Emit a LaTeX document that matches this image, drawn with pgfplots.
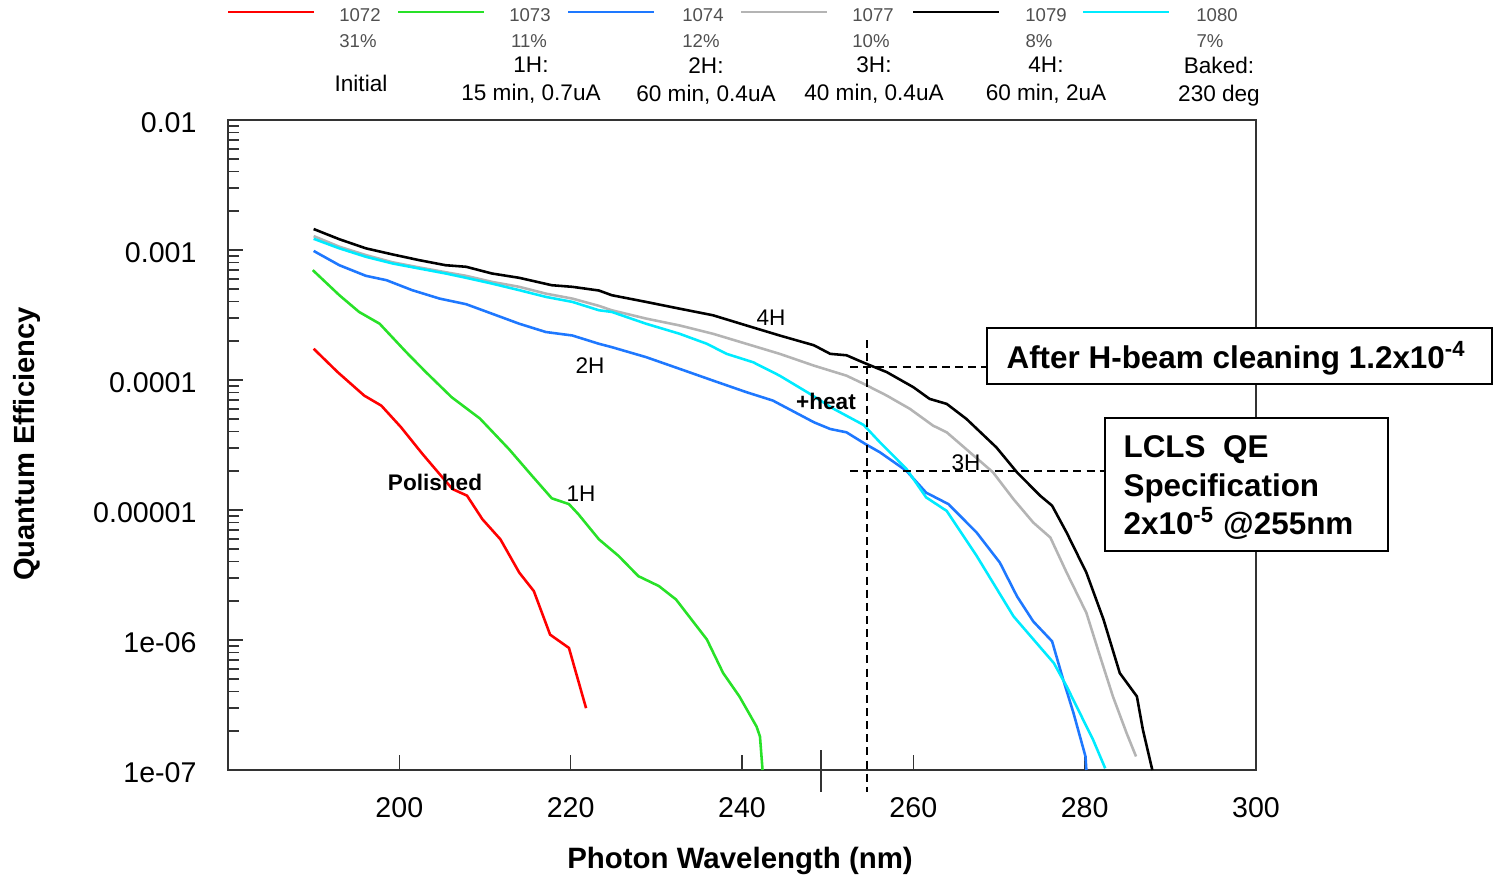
\documentclass[border=0pt]{standalone}
\usepackage{pgfplots}
\pgfplotsset{compat=1.18}
\usepackage{fontspec}
\setmainfont{Liberation Sans}

\definecolor{cred}{RGB}{255,0,0}
\definecolor{cgreen}{RGB}{40,225,40}
\definecolor{cblue}{RGB}{30,120,255}
\definecolor{cgray}{RGB}{180,180,180}
\definecolor{ccyan}{RGB}{0,235,255}
\definecolor{leggray}{RGB}{80,80,80}

\begin{document}
\begin{tikzpicture}
\tikzset{px/.style={x=0.35pt,y=-0.35pt}}
\path[use as bounding box,px] (0,0) rectangle (1493,877);
\begin{axis}[
  at={(79.8pt,-269.5pt)}, anchor=south west,
  scale only axis, width=359.8pt, height=227.5pt,
  xmin=180, xmax=300, ymode=log, ymin=1e-7, ymax=1e-2,
  xtick={200,220,240,260,280,300},
  xticklabels={200,220,240,260,280,300},
  ytick={1e-7,1e-6,1e-5,1e-4,1e-3,1e-2},
  yticklabels={1e-07,1e-06,0.00001,0.0001,0.001,0.01},
  tick pos=left, tick align=inside,
  major tick length=5.2pt, minor tick length=3.8pt,
  axis line style={line width=0.7pt, black!80},
  every tick/.style={black!80, line width=0.5pt},
  ticklabel style={font=\fontsize{10}{12}\selectfont},
  yticklabel style={xshift=-7.5pt, yshift=-1pt},
  xticklabel style={yshift=-6pt},
]
% 1072 initial
\addplot[cred, line width=0.9pt] coordinates {
(190.0,1.74e-4)(192.8,1.15e-4)(195.9,7.59e-5)(197.9,6.35e-5)(200.2,4.33e-5)
(202.7,2.70e-5)(204.7,1.89e-5)(206.2,1.45e-5)(207.9,1.29e-5)(209.7,8.49e-6)
(211.8,5.95e-6)(214.0,3.30e-6)(215.7,2.38e-6)(217.6,1.10e-6)(219.8,8.69e-7)
(221.8,2.99e-7)};
% 1073 1H
\addplot[cgreen, line width=0.9pt] coordinates {
(189.9,7.0e-4)(193.0,4.49e-4)(195.3,3.34e-4)(197.7,2.71e-4)(200.8,1.64e-4)
(203.1,1.15e-4)(206.1,7.38e-5)(209.4,5.06e-5)(212.8,2.94e-5)(215.5,1.83e-5)
(217.8,1.23e-5)(219.8,1.11e-5)(220.9,9.29e-6)(223.3,5.95e-6)(225.6,4.43e-6)
(227.9,3.10e-6)(230.3,2.60e-6)(232.3,2.05e-6)(235.9,1.01e-6)(237.8,5.57e-7)
(239.7,3.68e-7)(241.7,2.16e-7)(242.1,1.81e-7)(242.4,1.0e-7)};
% 1074 2H
\addplot[cblue, line width=0.9pt] coordinates {
(190.0,9.84e-4)(193.0,7.64e-4)(196.1,6.33e-4)(198.5,5.86e-4)(201.5,4.91e-4)
(204.7,4.23e-4)(207.8,3.83e-4)(210.8,3.24e-4)(214.0,2.71e-4)(217.1,2.34e-4)
(220.2,2.20e-4)(223.3,1.90e-4)(224.8,1.79e-4)(228.8,1.50e-4)(232.7,1.22e-4)
(236.6,9.91e-5)(240.5,8.07e-5)(243.6,6.95e-5)(248.4,4.73e-5)(250.3,4.20e-5)
(252.2,3.96e-5)(254.4,3.22e-5)(256.1,2.78e-5)(259.2,2.00e-5)(261.5,1.36e-5)
(264.1,1.11e-5)(267.4,6.70e-6)(270.1,3.94e-6)(272.1,2.17e-6)(274.0,1.39e-6)
(276.2,9.77e-7)(277.5,4.94e-7)(278.7,2.74e-7)(280.1,1.27e-7)(280.2,1.0e-7)};
% 1077 3H
\addplot[cgray, line width=0.9pt] coordinates {
(190.0,1.28e-3)(193.0,1.06e-3)(196.1,9.14e-4)(199.2,8.05e-4)(202.3,7.35e-4)
(205.4,6.75e-4)(207.8,6.33e-4)(210.8,5.69e-4)(214.0,5.21e-4)(217.1,4.62e-4)
(220.2,4.23e-4)(223.3,3.72e-4)(224.8,3.44e-4)(228.8,2.97e-4)(232.7,2.63e-4)
(236.6,2.27e-4)(240.5,1.90e-4)(244.4,1.59e-4)(248.4,1.29e-4)(252.2,1.08e-4)
(254.2,9.35e-5)(256.9,7.59e-5)(259.6,6.00e-5)(262.3,4.46e-5)(263.9,3.96e-5)
(266.6,2.78e-5)(269.3,1.95e-5)(271.7,1.21e-5)(274.0,8.01e-6)(276.0,6.14e-6)
(277.9,3.30e-6)(280.2,1.62e-6)(281.8,7.48e-7)(283.3,3.68e-7)(284.9,1.92e-7)
(286.0,1.27e-7)};
% 1079 4H
\addplot[black, line width=0.9pt] coordinates {
(190.0,1.45e-3)(193.0,1.21e-3)(196.1,1.03e-3)(199.2,9.25e-4)(202.3,8.36e-4)
(205.4,7.64e-4)(207.8,7.43e-4)(210.8,6.60e-4)(214.0,6.11e-4)(217.8,5.36e-4)
(220.2,5.21e-4)(223.3,4.88e-4)(224.8,4.49e-4)(228.8,3.99e-4)(232.7,3.54e-4)
(236.6,3.15e-4)(240.5,2.63e-4)(244.4,2.20e-4)(248.4,1.85e-4)(250.3,1.59e-4)
(252.2,1.55e-4)(254.2,1.36e-4)(256.9,1.15e-4)(260.0,8.81e-5)(261.9,7.16e-5)
(263.9,6.55e-5)(266.2,5.02e-5)(269.7,3.03e-5)(272.1,1.95e-5)(274.8,1.29e-5)
(276.2,1.08e-5)(277.9,6.70e-6)(280.2,3.30e-6)(282.2,1.44e-6)(284.1,5.57e-7)
(286.1,3.68e-7)(286.8,2.04e-7)(287.9,1.0e-7)};
% 1080 baked
\addplot[ccyan, line width=0.9pt] coordinates {
(190.0,1.22e-3)(193.0,1.03e-3)(196.1,8.87e-4)(199.2,7.88e-4)(202.3,7.21e-4)
(205.4,6.60e-4)(207.8,6.11e-4)(210.8,5.52e-4)(214.0,4.91e-4)(217.1,4.36e-4)
(220.2,3.99e-4)(223.3,3.44e-4)(224.8,3.34e-4)(228.8,2.71e-4)(232.7,2.27e-4)
(235.9,1.90e-4)(238.2,1.59e-4)(241.3,1.37e-4)(244.4,1.08e-4)(247.6,8.07e-5)
(250.7,6.00e-5)(254.2,4.51e-5)(256.1,3.32e-5)(259.2,2.07e-5)(261.5,1.25e-5)
(263.9,9.84e-6)(267.4,4.43e-6)(271.7,1.52e-6)(276.4,6.65e-7)(277.9,4.40e-7)
(281.0,1.70e-7)(282.4,1.03e-7)};
\end{axis}

\begin{scope}[px]
% legend
\foreach \x/\c in {228/cred,398/cgreen,568/cblue,741/cgray,913/black,1083/ccyan}
  \draw[\c, line width=0.9pt] (\x,12) -- ++(86,0);
\begin{scope}[every node/.style={font=\fontsize{6.5}{8}\selectfont, text=leggray}]
\node at (360,15) {1072}; \node at (358,41) {31\%};
\node at (530,15) {1073}; \node at (529,41) {11\%};
\node at (703,15) {1074}; \node at (701,41) {12\%};
\node at (873,15) {1077}; \node at (871,41) {10\%};
\node at (1046,15) {1079}; \node at (1039,41) {8\%};
\node at (1217,15) {1080}; \node at (1210,41) {7\%};
\end{scope}
\begin{scope}[every node/.style={font=\fontsize{7.9}{9.8}\selectfont, align=center}]
\node at (361,83) {Initial};
\node at (531,80) {1H:\\15 min, 0.7uA};
\node at (706,81) {2H:\\60 min, 0.4uA};
\node at (874,80) {3H:\\40 min, 0.4uA};
\node at (1046,80) {4H:\\60 min, 2uA};
\node at (1219,82) {Baked:\\230 deg};
\end{scope}

% axis titles
\node[font=\bfseries\fontsize{10.3}{12}\selectfont] at (740,861) {Photon Wavelength (nm)};
\node[font=\bfseries\fontsize{10.2}{12}\selectfont, rotate=90] at (27,444) {Quantum Efficiency};

% curve labels
\node[font=\bfseries\fontsize{7.9}{9}\selectfont] at (435,482) {Polished};
\node[font=\fontsize{7.9}{9}\selectfont] at (581,494) {1H};
\node[font=\fontsize{7.9}{9}\selectfont] at (590,366) {2H};
\node[font=\fontsize{7.9}{9}\selectfont] at (771,318) {4H};
\node[font=\bfseries\fontsize{7.9}{9}\selectfont] at (826,401) {+heat};
\node[font=\fontsize{7.9}{9}\selectfont] at (966,463) {3H};

% marker line at 250
\draw[black!80, line width=0.5pt] (821,750) -- (821,792);

% dashed guides
\draw[line width=0.7pt, dash pattern=on 2.8pt off 1.8pt] (867,340) -- (867,792);
\draw[line width=0.7pt, dash pattern=on 2.8pt off 1.8pt] (850,367) -- (987,367);
\draw[line width=0.7pt, dash pattern=on 2.8pt off 1.8pt] (850,471) -- (1105,471);

% boxes
\draw[line width=0.7pt, fill=white] (987,328) rectangle (1492,384);
\node[anchor=base west, inner sep=0pt, font=\bfseries\fontsize{11}{13}\selectfont] at (1006,368)
  {After H-beam cleaning 1.2x10\textsuperscript{-4}};
\draw[line width=0.7pt, fill=white] (1105,418) rectangle (1388,551);
\begin{scope}[every node/.style={anchor=base west, inner sep=0pt, font=\bfseries\fontsize{11}{13}\selectfont}]
\node at (1123,457) {LCLS\ \ QE};
\node at (1123,496) {Specification};
\node at (1123,534) {2x10\textsuperscript{-5} @255nm};
\end{scope}
\end{scope}
\end{tikzpicture}
\end{document}
